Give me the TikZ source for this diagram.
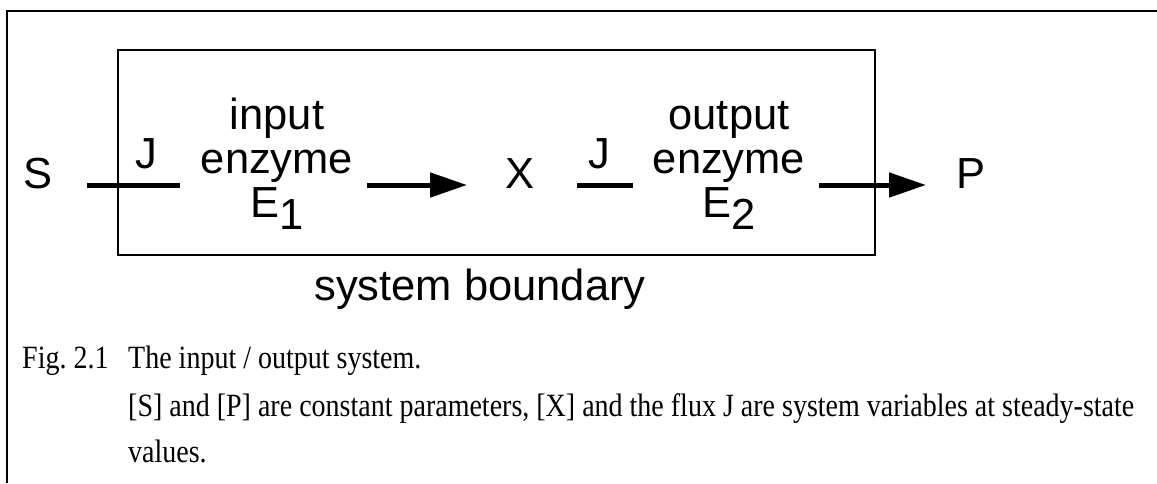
\documentclass[tikz,border=0pt]{standalone}
\usepackage{fontspec}
\setmainfont{Liberation Serif}
\setsansfont{Liberation Sans}
\usetikzlibrary{arrows.meta}
\newcommand{\captall}[1]{\scalebox{1}[1.16]{#1}}
\begin{document}
\begin{tikzpicture}[x=1pt,y=-1pt,
  lbl/.style={font=\sffamily\fontsize{43.5}{44}\selectfont, inner sep=0pt},
  enz/.style={lbl, align=center, anchor=base},
  captext/.style={font=\fontsize{28}{34}\selectfont, inner sep=0pt, anchor=base west},
  wire/.style={line width=5pt},
  flow/.style={wire, -{Triangle[length=37pt,width=24pt]}},
  frame/.style={line width=2.2pt},
  boundary/.style={draw, line width=2.5pt, inner sep=0pt, minimum width=757pt, minimum height=205pt}]
\useasboundingbox (0,0) rectangle (1157,483);

% page frame (top and left rules)
\draw[frame] (1157,11) -- (7,11) -- (7,483);

% system boundary
\node[boundary] (box) at (496.5,152.5) {};
\node[lbl, anchor=base] (sb) at (480,300) {system boundary};

% species
\node[lbl, anchor=base] (S) at (38,188) {S};
\node[lbl, anchor=base] (X) at (520,188) {X};
\node[lbl, anchor=base] (P) at (971,188) {P};

% enzymes (base anchor sits on the last line)
\node[enz] (E1) at (277,217) {input\\enzyme\\E\raisebox{-12pt}{1}};
\node[enz] (E2) at (729,217) {output\\enzyme\\E\raisebox{-12pt}{2}};

% flux labels
\node[lbl, anchor=base] (J1) at (146,168) {J};
\node[lbl, anchor=base] (J2) at (599,168) {J};

% connector end points
\coordinate (sOut) at (87,185);
\coordinate (e1In) at (180,185);
\coordinate (e1Out) at (367,185);
\coordinate (xIn) at (467,185);
\coordinate (xOut) at (577,185);
\coordinate (e2In) at (633,185);
\coordinate (e2Out) at (819,185);
\coordinate (pIn) at (926,185);

\draw[wire] (sOut) -- (e1In);
\draw[flow] (e1Out) -- (xIn);
\draw[wire] (xOut) -- (e2In);
\draw[flow] (e2Out) -- (pIn);

% caption
\node[captext] (fig) at (22,368) {\captall{Fig.\ 2.1}};
\node[captext] (c1) at (128,368) {\captall{The input / output system.}};
\node[captext] (c2) at (128,416) {\captall{[S] and [P] are constant parameters, [X] and the flux J are system variables at steady-state}};
\node[captext] (c3) at (128,462) {\captall{values.}};
\end{tikzpicture}
\end{document}
